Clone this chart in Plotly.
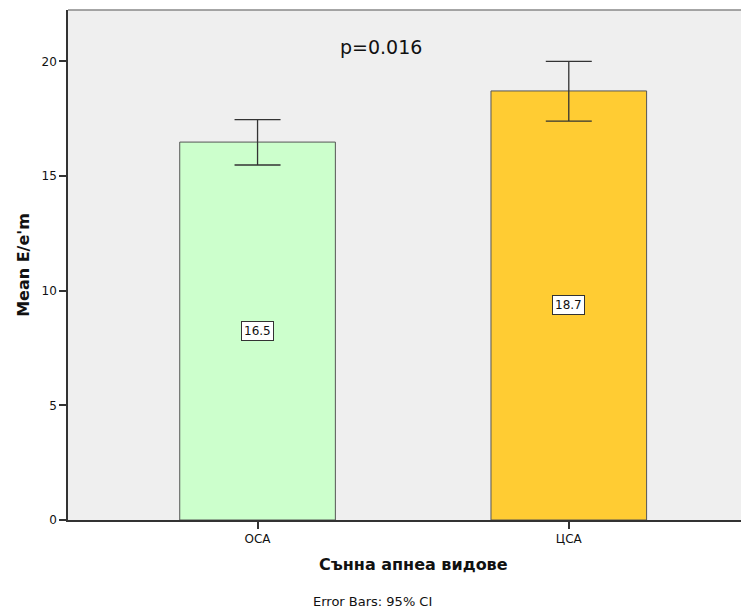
import plotly.graph_objects as go

categories = ["OCA", "ЦСА"]
means = [16.48, 18.71]
ci_upper = [17.46, 20.0]
ci_lower = [15.48, 17.39]
bar_colors = ["#CCFFCC", "#FFCC33"]
value_labels = ["16.5", "18.7"]
y_ticks = [0, 5, 10, 15, 20]

err_plus = [u - m for u, m in zip(ci_upper, means)]
err_minus = [m - l for m, l in zip(means, ci_lower)]

font_family = "DejaVu Sans, Verdana, sans-serif"

# page body has an 8px margin, so the figure is sized to the visible area
W, H = 741, 603
L, T, B, R = 60, 2, 91, 0
pw, ph = W - L - R, H - T - B

fig = go.Figure()
fig.add_trace(go.Bar(
    x=[0, 1], y=means, width=0.5,
    marker=dict(color=bar_colors, line=dict(color="#555555", width=1)),
    error_y=dict(type="data", symmetric=False, array=err_plus, arrayminus=err_minus,
                 color="#333333", thickness=1.3, width=23),
    hoverinfo="skip",
))

for i, (m, lab) in enumerate(zip(means, value_labels)):
    fig.add_annotation(x=i, y=m / 2, text=lab, showarrow=False,
                       font=dict(family=font_family, size=12, color="#111111"),
                       bgcolor="white", bordercolor="#333333", borderwidth=1, borderpad=2)

fig.add_annotation(x=0.396, y=20.63, text="p=0.016", showarrow=False, yanchor="middle",
                   font=dict(family=font_family, size=19, color="#111111"))

fig.add_annotation(xref="paper", yref="paper", x=(413 - 68) / pw, y=-(565 - 520.5) / ph,
                   yanchor="middle", text="<b>Сънна апнеа видове</b>", showarrow=False,
                   font=dict(family=font_family, size=16, color="#111111"))
fig.add_annotation(xref="paper", yref="paper", x=(372 - 68) / pw, y=-(602 - 520.5) / ph,
                   yanchor="middle", text="Error Bars: 95% CI", showarrow=False,
                   font=dict(family=font_family, size=13, color="#111111"))

fig.add_shape(type="line", xref="paper", yref="paper", x0=0, x1=1, y0=1, y1=1,
              line=dict(color="#888888", width=1.5))

fig.update_layout(
    width=W, height=H, autosize=False,
    margin=dict(l=L, r=R, t=T, b=B),
    paper_bgcolor="white", plot_bgcolor="#EFEFEF",
    showlegend=False,
    font=dict(family=font_family, size=12, color="#111111"),
    xaxis=dict(range=[-0.609, 1.579], tickvals=[0, 1], ticktext=categories,
               showgrid=False, zeroline=False, showline=True, linecolor="#333333", linewidth=1.5,
               ticks="outside", ticklen=7, tickcolor="#333333", tickwidth=1.5,
               tickfont=dict(family=font_family, size=12)),
    yaxis=dict(range=[0, 22.24], tickvals=y_ticks,
               showgrid=False, zeroline=False, showline=True, linecolor="#333333", linewidth=1.5,
               ticks="outside", ticklen=7, tickcolor="#333333", tickwidth=1.5,
               tickfont=dict(family=font_family, size=12),
               title=dict(text="<b>Mean E/e'm</b>", font=dict(family=font_family, size=16), standoff=8)),
)

fig.write_html("out.html")
